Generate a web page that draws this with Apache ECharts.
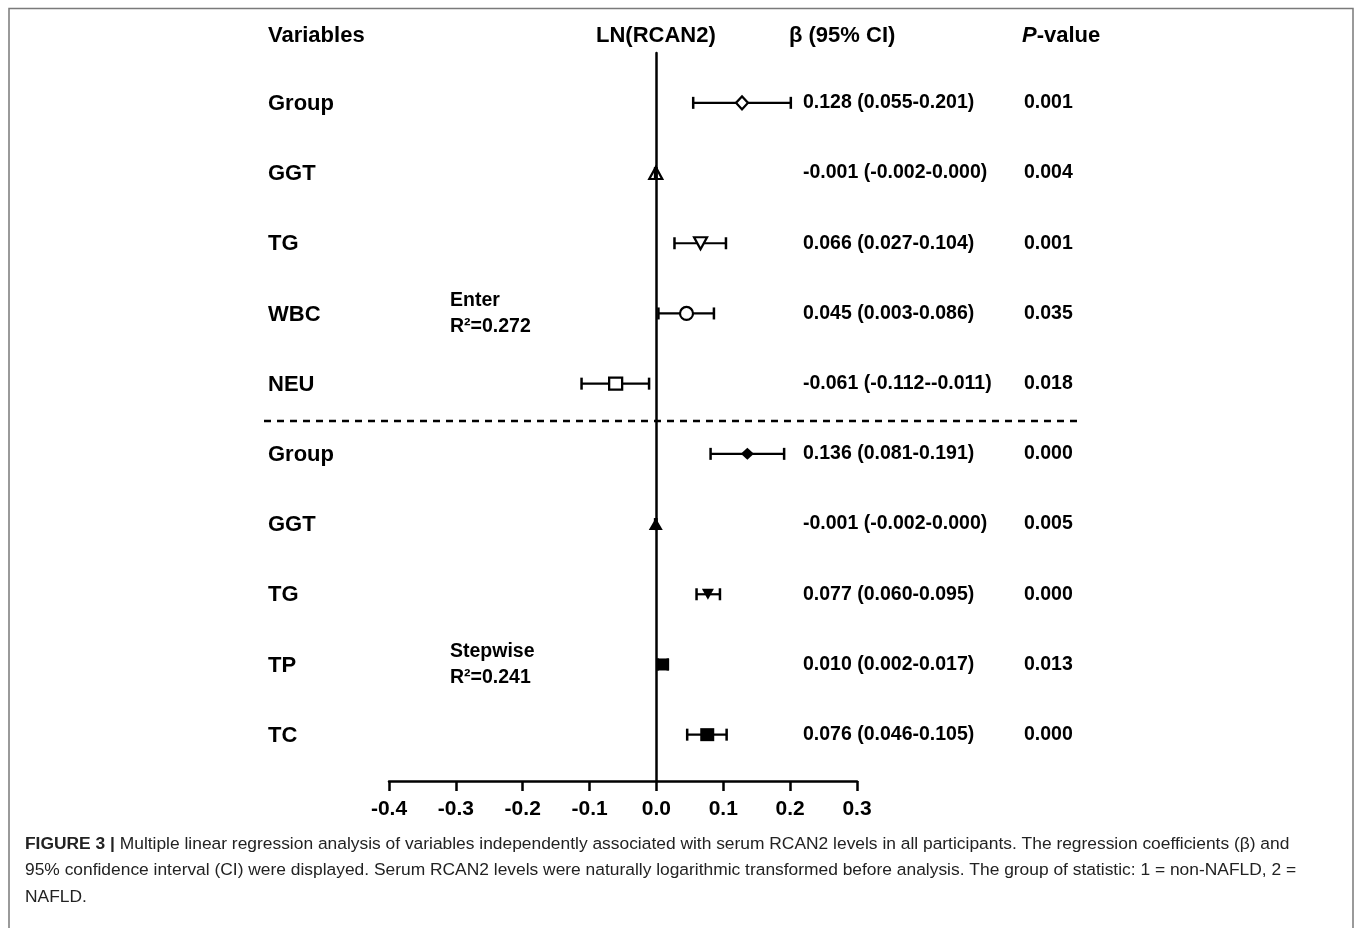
<!DOCTYPE html>
<html><head><meta charset="utf-8">
<script src="https://cdn.jsdelivr.net/npm/echarts@6/dist/echarts.min.js"></script>
<style>html,body{margin:0;padding:0;background:#fff}#c{width:1355px;height:928px}</style>
</head><body><div id="c"></div>
<script>
// ---- data ----
const variables = ['Group','GGT','TG','WBC','NEU','Group','GGT','TG','TP','TC'];
const beta   = [0.128,-0.001,0.066,0.045,-0.061,0.136,-0.001,0.077,0.010,0.076];
const ciLow  = [0.055,-0.002,0.027,0.003,-0.112,0.081,-0.002,0.060,0.002,0.046];
const ciHigh = [0.201, 0.000,0.104,0.086,-0.011,0.191, 0.000,0.095,0.017,0.105];
const ciText = ['0.128 (0.055-0.201)','-0.001 (-0.002-0.000)','0.066 (0.027-0.104)','0.045 (0.003-0.086)','-0.061 (-0.112--0.011)',
                '0.136 (0.081-0.191)','-0.001 (-0.002-0.000)','0.077 (0.060-0.095)','0.010 (0.002-0.017)','0.076 (0.046-0.105)'];
const pValues = ['0.001','0.004','0.001','0.035','0.018','0.000','0.005','0.000','0.013','0.000'];
const xTickMin = -0.4, xTickMax = 0.3, xTickStep = 0.1;
const models = [{name:'Enter', r2:'R²=0.272', row:3}, {name:'Stepwise', r2:'R²=0.241', row:8}];

// ---- styles (not data) ----
const markerStyles = [
  {symbol:'diamond',  size:[12,13], hollow:true},
  {symbol:'triangle', size:[13,12], hollow:true, clear:true},
  {symbol:'triangle', size:[13,12], rotate:180, hollow:true},
  {symbol:'circle',   size:13, hollow:true},
  {symbol:'rect',     size:[13,12], hollow:true},
  {symbol:'diamond',  size:[13,12]},
  {symbol:'triangle', size:[14,12]},
  {symbol:'triangle', size:[12,11], rotate:180},
  {symbol:'rect',     size:[12,12]},
  {symbol:'rect',     size:[14,13]}
];
const F = '"Liberation Sans", Arial, sans-serif';

const chart = echarts.init(document.getElementById('c'), null, {renderer:'canvas'});

const option = {
  backgroundColor:'#fff',
  animation:false,
  grid:{left:389, right:498, top:53, bottom:147},
  xAxis:{
    type:'value', min:xTickMin, max:xTickMax, interval:xTickStep,
    axisLine:{onZero:false, lineStyle:{color:'#000', width:2.5}},
    axisTick:{length:10, lineStyle:{color:'#000', width:2.5}},
    axisLabel:{margin:18, color:'#000', fontSize:21, fontWeight:'bold', fontFamily:F,
      formatter:v=>v.toFixed(1)},
    splitLine:{show:false}
  },
  yAxis:{
    type:'value', inverse:true, min:-0.71, max:9.66,
    axisLine:{show:true, onZero:true, lineStyle:{color:'#000', width:2.5}},
    axisTick:{show:false}, axisLabel:{show:false}, splitLine:{show:false}
  },
  series:[
    {
      type:'custom', z:3, clip:false,
      data: variables.map((v,i)=>[i, ciLow[i], ciHigh[i]]),
      encode:{x:[1,2], y:0},
      renderItem:(params, api)=>{
        const i = api.value(0);
        const pl = api.coord([api.value(1), i]);
        const ph = api.coord([api.value(2), i]);
        const y = pl[1];
        const lw = {stroke:'#000', lineWidth:2.2};
        return {type:'group', children:[
          {type:'line', shape:{x1:pl[0], y1:y, x2:ph[0], y2:y}, style:lw},
          {type:'line', shape:{x1:pl[0], y1:y-6, x2:pl[0], y2:y+6}, style:{stroke:'#000', lineWidth:2.5}},
          {type:'line', shape:{x1:ph[0], y1:y-6, x2:ph[0], y2:y+6}, style:{stroke:'#000', lineWidth:2.5}},
          {type:'text', style:{text:variables[i], x:268, y:y+1, font:'bold 22px '+F, fill:'#000', align:'left', verticalAlign:'middle'}},
          {type:'text', style:{text:ciText[i], x:803, y:y, font:'bold 19.5px '+F, fill:'#000', align:'left', verticalAlign:'middle'}},
          {type:'text', style:{text:pValues[i], x:1024, y:y, font:'bold 19.5px '+F, fill:'#000', align:'left', verticalAlign:'middle'}}
        ]};
      }
    },
    {
      type:'custom', z:3, clip:false,
      data: models.map(m=>[m.row]),
      encode:{y:0},
      renderItem:(params, api)=>{
        const m = models[params.dataIndex];
        const y = api.coord([0, m.row])[1];
        return {type:'group', children:[
          {type:'text', style:{text:m.name, x:450, y:y-13, font:'bold 19.5px '+F, fill:'#000', align:'left', verticalAlign:'middle'}},
          {type:'text', style:{text:m.r2, x:450, y:y+13, font:'bold 19.5px '+F, fill:'#000', align:'left', verticalAlign:'middle'}}
        ]};
      }
    },
    {
      type:'scatter', z:5,
      data: beta.map((b,i)=>{
        const s = markerStyles[i];
        return {
          value:[b,i], symbol:s.symbol, symbolSize:s.size, symbolRotate:s.rotate||0,
          itemStyle: s.hollow ? {color: s.clear ? 'rgba(255,255,255,0)' : '#fff', borderColor:'#000', borderWidth:2.2, opacity:1}
                              : {color:'#000', borderWidth:0, opacity:1}
        };
      }),
      emphasis:{disabled:true}
    }
  ],
  graphic:[
    {type:'polyline', silent:true, shape:{points:[[9,928],[9,8.5],[1353,8.5],[1353,928]]}, style:{stroke:'#7a7a7a', lineWidth:1.5, fill:null}},
    {type:'line', silent:true, shape:{x1:264, y1:421, x2:1078, y2:421}, style:{stroke:'#000', lineWidth:2.5, lineDash:[7,6]}},
    {type:'text', left:268, top:25, style:{text:'Variables', font:'bold 22px '+F, fill:'#000'}},
    {type:'text', left:596, top:25, style:{text:'LN(RCAN2)', font:'bold 22px '+F, fill:'#000'}},
    {type:'text', left:789, top:25, style:{text:'β (95% CI)', font:'bold 22px '+F, fill:'#000'}},
    {type:'text', left:1022, top:25, style:{text:'{i|P}-value', font:'bold 22px '+F, fill:'#000',
      rich:{i:{fontStyle:'italic', fontWeight:'bold', fontSize:22, fontFamily:F}}}},
    {type:'text', left:25, top:836, style:{text:'{b|FIGURE 3 |} Multiple linear regression analysis of variables independently associated with serum RCAN2 levels in all participants. The regression coefficients (β) and',
      font:'17.4px '+F, fill:'#222', rich:{b:{fontWeight:'bold', fontSize:17.4, fontFamily:F}}}},
    {type:'text', left:25, top:862, style:{text:'95% confidence interval (CI) were displayed. Serum RCAN2 levels were naturally logarithmic transformed before analysis. The group of statistic: 1 = non-NAFLD, 2 =',
      font:'17.4px '+F, fill:'#222'}},
    {type:'text', left:25, top:889, style:{text:'NAFLD.', font:'17.4px '+F, fill:'#222'}}
  ]
};
chart.setOption(option);
</script>
</body></html>
